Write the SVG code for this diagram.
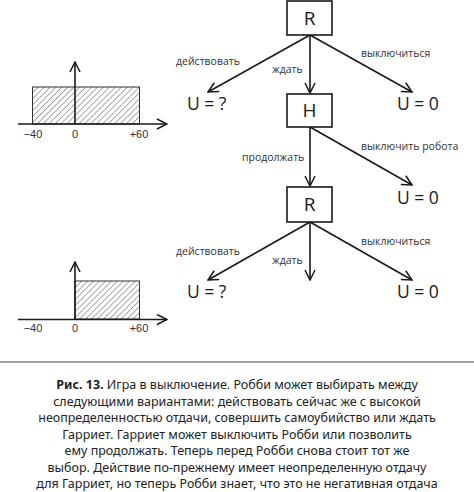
<svg xmlns="http://www.w3.org/2000/svg" width="474" height="492" viewBox="0 0 474 492">
<style>
.ln{stroke:#1a1a1a;stroke-width:1.6;fill:none}
.box{stroke:#1a1a1a;stroke-width:1.6;fill:#fff}
.nd{font-family:"Open Sans","Noto Sans",sans-serif;font-size:19px;fill:#1a1a1a;text-anchor:middle}
.u{font-family:"Open Sans","Noto Sans",sans-serif;font-size:17.5px;fill:#1a1a1a}
.lb{font-family:"Open Sans","Noto Sans",sans-serif;font-size:10.5px;fill:#333}
.ax{font-family:"Liberation Sans",Arial,sans-serif;font-size:11px;fill:#333;text-anchor:middle}
.cap{font-family:"Noto Sans","Open Sans",sans-serif;font-size:12.5px;fill:#222;text-anchor:middle}
</style>
<defs>
<marker id="ah" viewBox="0 0 12 12" refX="11" refY="6" markerWidth="12" markerHeight="12" markerUnits="userSpaceOnUse" orient="auto">
<path d="M1,1 L11,6 L1,11" fill="none" stroke="#1a1a1a" stroke-width="1.5"/>
</marker>
<pattern id="hatch" patternUnits="userSpaceOnUse" width="4.2" height="4.2" patternTransform="rotate(45)">
<line x1="0" y1="0" x2="0" y2="4.2" stroke="#2a2a2a" stroke-width="0.8"/>
</pattern>
</defs>
<rect width="474" height="492" fill="#fff"/>

<g id="chart-top">
<rect x="32.5" y="87" width="107" height="37" fill="url(#hatch)" stroke="#333" stroke-width="1"/>
<line class="ln" x1="18" y1="124" x2="167" y2="124" marker-end="url(#ah)"/>
<line class="ln" x1="75" y1="124" x2="75" y2="62" marker-end="url(#ah)"/>
<text class="ax" x="33" y="138">−40</text>
<text class="ax" x="75" y="138">0</text>
<text class="ax" x="139" y="138">+60</text>
</g>

<g id="chart-bottom">
<rect x="75" y="281" width="64.5" height="38" fill="url(#hatch)" stroke="#333" stroke-width="1"/>
<line class="ln" x1="18" y1="319.5" x2="167" y2="319.5" marker-end="url(#ah)"/>
<line class="ln" x1="75" y1="319.5" x2="75" y2="262" marker-end="url(#ah)"/>
<text class="ax" x="33" y="332">−40</text>
<text class="ax" x="75" y="332">0</text>
<text class="ax" x="139" y="332">+60</text>
</g>

<g id="connectors">
<line class="ln" x1="310" y1="35" x2="208" y2="92" marker-end="url(#ah)"/>
<line class="ln" x1="310" y1="35" x2="310" y2="93" marker-end="url(#ah)"/>
<line class="ln" x1="310" y1="35" x2="412" y2="92" marker-end="url(#ah)"/>
<line class="ln" x1="310" y1="127" x2="310" y2="186" marker-end="url(#ah)"/>
<line class="ln" x1="310" y1="127" x2="412" y2="185" marker-end="url(#ah)"/>
<line class="ln" x1="310" y1="222" x2="208" y2="280" marker-end="url(#ah)"/>
<line class="ln" x1="310" y1="222" x2="310" y2="280" marker-end="url(#ah)"/>
<line class="ln" x1="310" y1="222" x2="412" y2="280" marker-end="url(#ah)"/>
<text class="lb" x="176" y="65">действовать</text>
<text class="lb" x="272" y="73">ждать</text>
<text class="lb" x="361" y="57">выключиться</text>
<text class="lb" x="242" y="161">продолжать</text>
<text class="lb" x="361" y="150">выключить робота</text>
<text class="lb" x="176" y="255">действовать</text>
<text class="lb" x="272" y="264">ждать</text>
<text class="lb" x="361" y="245">выключиться</text>
</g>

<g id="node-R1">
<rect class="box" x="287" y="1" width="45" height="34"/>
<text class="nd" x="309.5" y="25">R</text>
</g>
<g id="node-H">
<rect class="box" x="287" y="94" width="45" height="33"/>
<text class="nd" x="309.5" y="117">H</text>
</g>
<g id="node-R2">
<rect class="box" x="287" y="187" width="45" height="35"/>
<text class="nd" x="309.5" y="211">R</text>
</g>
<g id="u1"><text class="u" x="187" y="110">U = ?</text></g>
<g id="u2"><text class="u" x="397" y="110">U = 0</text></g>
<g id="u3"><text class="u" x="397" y="204">U = 0</text></g>
<g id="u4"><text class="u" x="187" y="298">U = ?</text></g>
<g id="u5"><text class="u" x="397" y="298">U = 0</text></g>

<line x1="0" y1="362" x2="474" y2="362" stroke="#444" stroke-width="1.2"/>

<g id="caption">
<text class="cap" x="237" y="389"><tspan font-weight="bold">Рис. 13.</tspan> Игра в выключение. Робби может выбирать между</text>
<text class="cap" x="237" y="405.5">следующими вариантами: действовать сейчас же с высокой</text>
<text class="cap" x="237" y="422">неопределенностью отдачи, совершить самоубийство или ждать</text>
<text class="cap" x="237" y="438.5">Гарриет. Гарриет может выключить Робби или позволить</text>
<text class="cap" x="237" y="455">ему продолжать. Теперь перед Робби снова стоит тот же</text>
<text class="cap" x="237" y="471.5">выбор. Действие по-прежнему имеет неопределенную отдачу</text>
<text class="cap" x="237" y="488">для Гарриет, но теперь Робби знает, что это не негативная отдача</text>
</g>
</svg>
